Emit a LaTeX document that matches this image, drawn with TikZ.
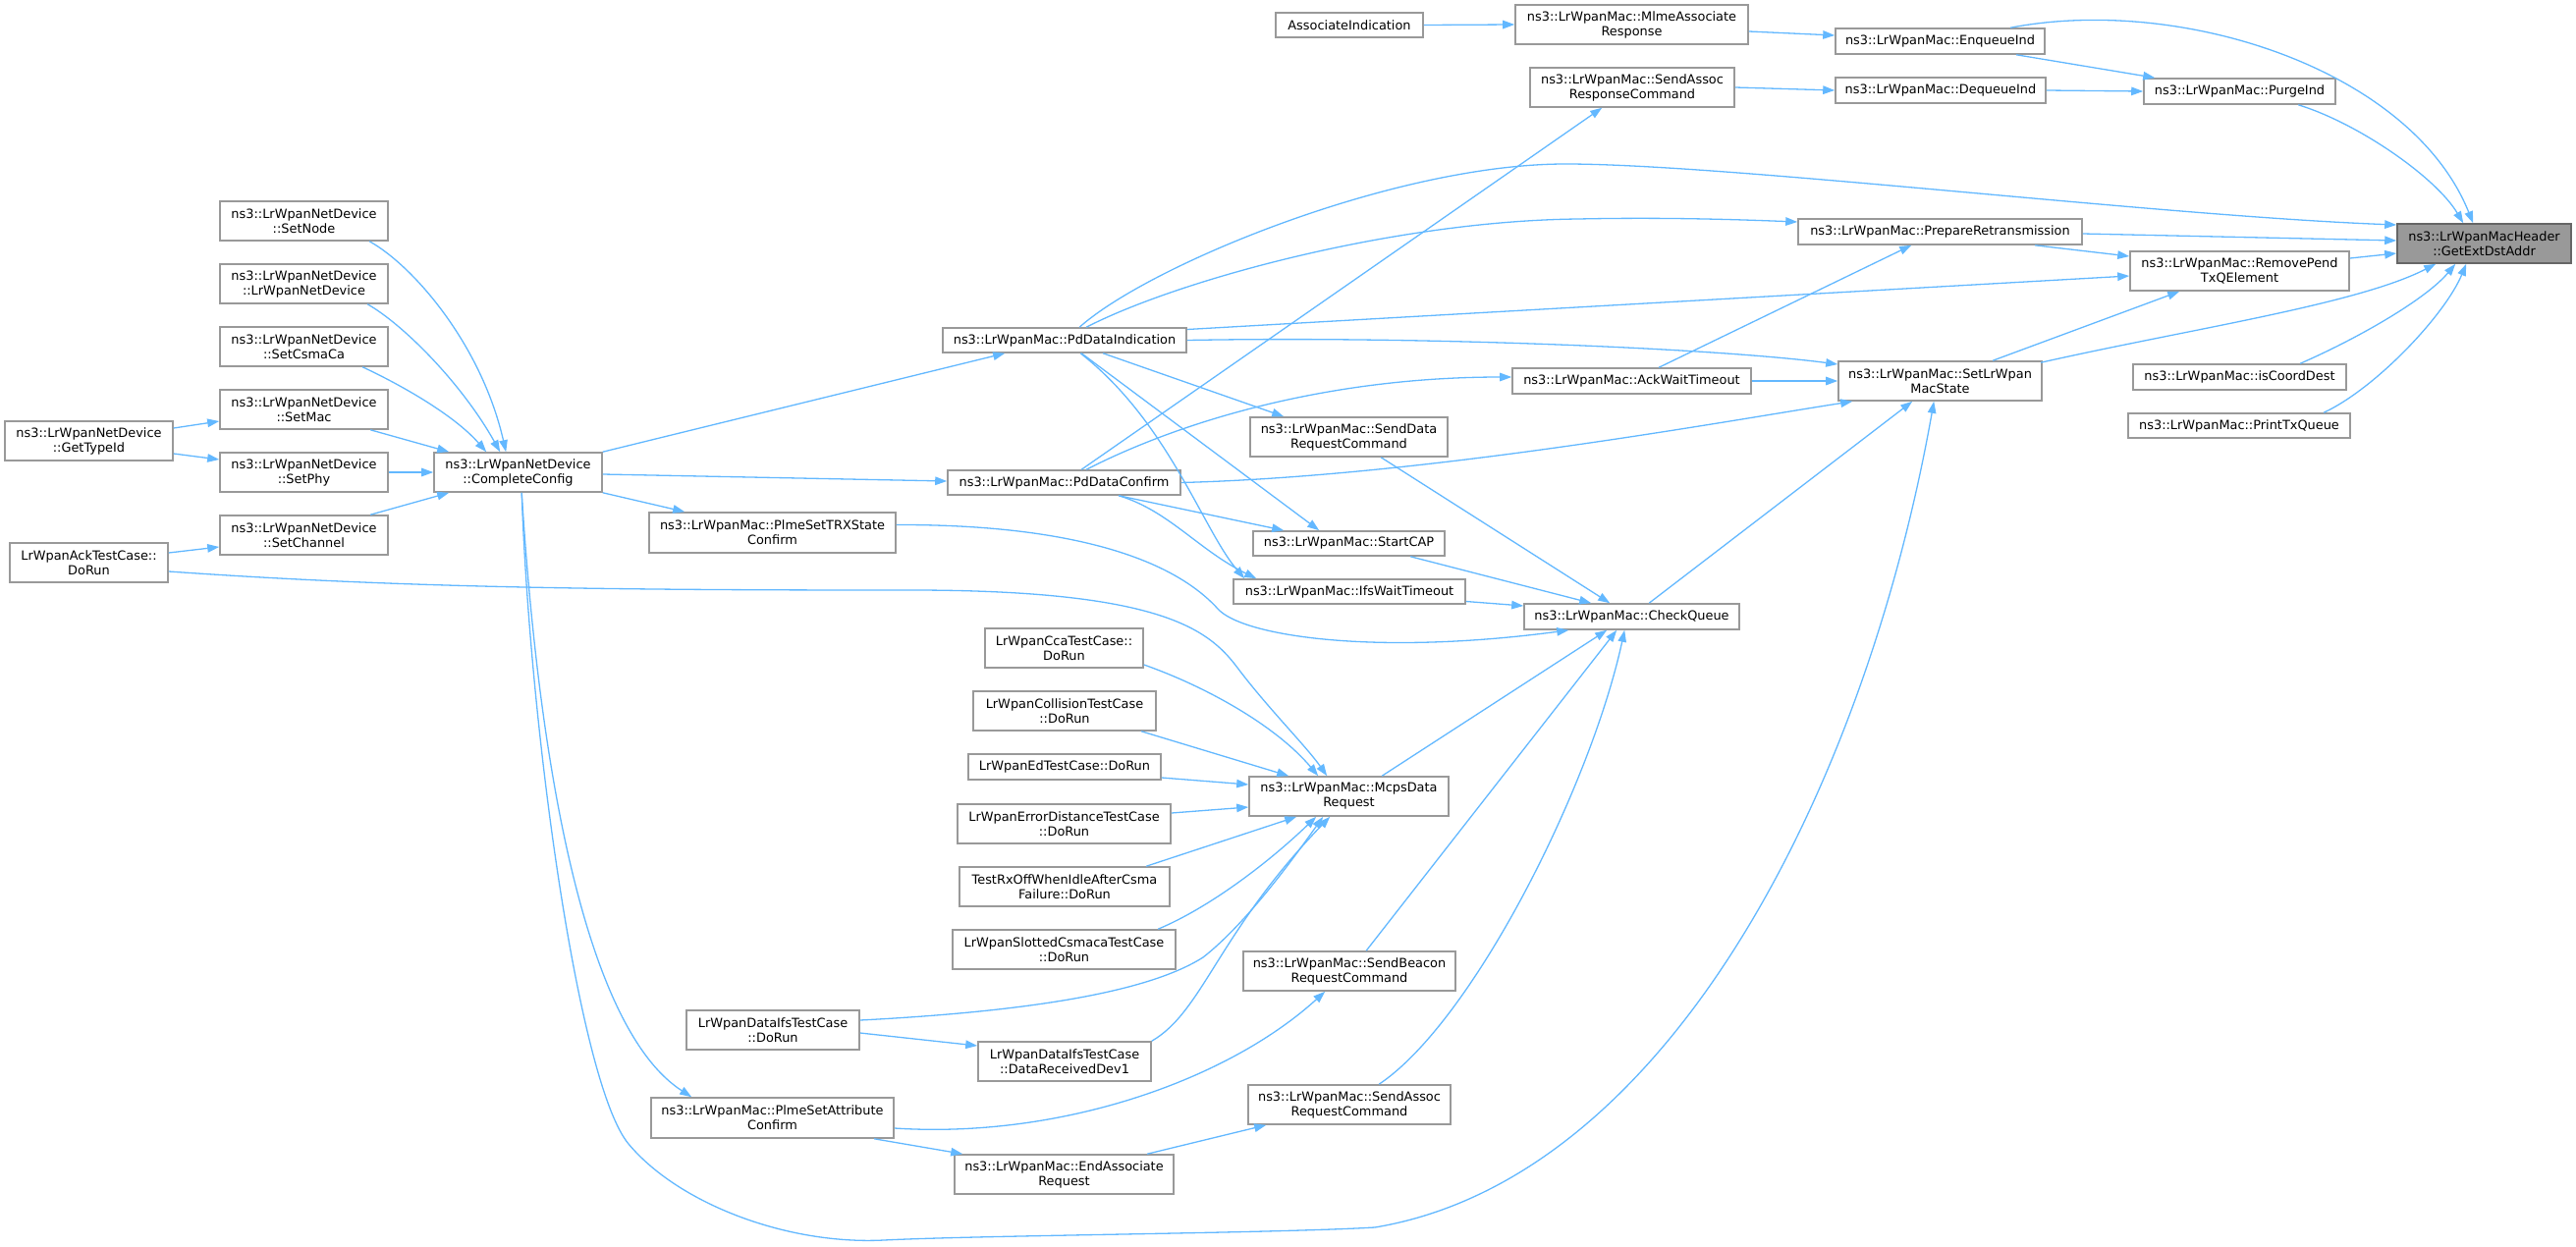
\documentclass[tikz,border=0pt]{standalone}
\usepackage{fontspec}
\setmainfont{DejaVu Sans}
\usetikzlibrary{arrows.meta}
\definecolor{edgec}{HTML}{63B8FF}
\definecolor{boxc}{HTML}{999999}
\definecolor{hlfill}{HTML}{999999}
\definecolor{hldraw}{HTML}{666666}
\begin{document}
\begin{tikzpicture}[x=1pt,y=-1pt,
  box/.style={draw=boxc,line width=1.6pt,fill=white,inner sep=0pt,align=center,
    font=\fontsize{12.9pt}{15pt}\selectfont},
  hl/.style={box,fill=hlfill,draw=hldraw},
  e/.style={draw=edgec,line width=1.3pt,-{Triangle[length=12pt,width=8.5pt]}}]
\useasboundingbox (0,0) rectangle (2623,1269);
% nodes
\node[box,minimum width=150pt,minimum height=25pt] (AI) at (1374,25.5) {AssociateIndication};
\node[box,minimum width=237pt,minimum height=40pt] (MAR) at (1661.5,25) {ns3::LrWpanMac::MlmeAssociate\\Response};
\node[box,minimum width=213pt,minimum height=26pt] (EQ) at (1975.5,42) {ns3::LrWpanMac::EnqueueInd};
\node[box,minimum width=208pt,minimum height=40pt] (SARC) at (1662,89) {ns3::LrWpanMac::SendAssoc\\ResponseCommand};
\node[box,minimum width=214pt,minimum height=26pt] (DQ) at (1976,92) {ns3::LrWpanMac::DequeueInd};
\node[box,minimum width=195pt,minimum height=26pt] (PI) at (2280.5,93) {ns3::LrWpanMac::PurgeInd};
\node[hl,minimum width=177pt,minimum height=40pt] (GED) at (2529.5,248) {ns3::LrWpanMacHeader\\::GetExtDstAddr};
\node[box,minimum width=289pt,minimum height=26pt] (PR) at (1975.5,236) {ns3::LrWpanMac::PrepareRetransmission};
\node[box,minimum width=223pt,minimum height=40pt] (RPT) at (2280.5,276) {ns3::LrWpanMac::RemovePend\\TxQElement};
\node[box,minimum width=207pt,minimum height=40pt] (SLS) at (1975.5,388) {ns3::LrWpanMac::SetLrWpan\\MacState};
\node[box,minimum width=217pt,minimum height=26pt] (ICD) at (2280.5,384) {ns3::LrWpanMac::isCoordDest};
\node[box,minimum width=226pt,minimum height=25pt] (PTQ) at (2280,433.5) {ns3::LrWpanMac::PrintTxQueue};
\node[box,minimum width=243pt,minimum height=26pt] (AWT) at (1661.5,388) {ns3::LrWpanMac::AckWaitTimeout};
\node[box,minimum width=248pt,minimum height=25pt] (PDI) at (1084,346.5) {ns3::LrWpanMac::PdDataIndication};
\node[box,minimum width=237pt,minimum height=25pt] (PDC) at (1083.5,491.5) {ns3::LrWpanMac::PdDataConfirm};
\node[box,minimum width=201pt,minimum height=40pt] (SDRC) at (1373.5,445) {ns3::LrWpanMac::SendData\\RequestCommand};
\node[box,minimum width=195pt,minimum height=25pt] (SCAP) at (1373.5,553.5) {ns3::LrWpanMac::StartCAP};
\node[box,minimum width=236pt,minimum height=25pt] (IFS) at (1374,602.5) {ns3::LrWpanMac::IfsWaitTimeout};
\node[box,minimum width=219pt,minimum height=26pt] (CQ) at (1661.5,628) {ns3::LrWpanMac::CheckQueue};
\node[box,minimum width=251pt,minimum height=41pt] (TRX) at (786.5,542.5) {ns3::LrWpanMac::PlmeSetTRXState\\Confirm};
\node[box,minimum width=171pt,minimum height=40pt] (CC) at (527.5,481) {ns3::LrWpanNetDevice\\::CompleteConfig};
\node[box,minimum width=171pt,minimum height=40pt] (SN) at (309.5,225) {ns3::LrWpanNetDevice\\::SetNode};
\node[box,minimum width=171pt,minimum height=40pt] (LND) at (309.5,289) {ns3::LrWpanNetDevice\\::LrWpanNetDevice};
\node[box,minimum width=171pt,minimum height=40pt] (SCC) at (309.5,353) {ns3::LrWpanNetDevice\\::SetCsmaCa};
\node[box,minimum width=171pt,minimum height=40pt] (SM) at (309.5,417) {ns3::LrWpanNetDevice\\::SetMac};
\node[box,minimum width=171pt,minimum height=40pt] (SP) at (309.5,481) {ns3::LrWpanNetDevice\\::SetPhy};
\node[box,minimum width=171pt,minimum height=40pt] (SCh) at (309.5,545) {ns3::LrWpanNetDevice\\::SetChannel};
\node[box,minimum width=171pt,minimum height=40pt] (GTI) at (90.5,449) {ns3::LrWpanNetDevice\\::GetTypeId};
\node[box,minimum width=161pt,minimum height=40pt] (ACK) at (90.5,573) {LrWpanAckTestCase::\\DoRun};
\node[box,minimum width=161pt,minimum height=40pt] (CCA) at (1083.5,660) {LrWpanCcaTestCase::\\DoRun};
\node[box,minimum width=186pt,minimum height=40pt] (COL) at (1084,724) {LrWpanCollisionTestCase\\::DoRun};
\node[box,minimum width=196pt,minimum height=26pt] (ED) at (1084,781) {LrWpanEdTestCase::DoRun};
\node[box,minimum width=217pt,minimum height=40pt] (ERR) at (1083.5,839) {LrWpanErrorDistanceTestCase\\::DoRun};
\node[box,minimum width=214pt,minimum height=40pt] (RXO) at (1084,903) {TestRxOffWhenIdleAfterCsma\\Failure::DoRun};
\node[box,minimum width=227pt,minimum height=40pt] (SLT) at (1083.5,967) {LrWpanSlottedCsmacaTestCase\\::DoRun};
\node[box,minimum width=203pt,minimum height=40pt] (MCPS) at (1373.5,811) {ns3::LrWpanMac::McpsData\\Request};
\node[box,minimum width=216pt,minimum height=40pt] (SBRC) at (1374,989) {ns3::LrWpanMac::SendBeacon\\RequestCommand};
\node[box,minimum width=176pt,minimum height=40pt] (DIFS) at (787,1049) {LrWpanDataIfsTestCase\\::DoRun};
\node[box,minimum width=176pt,minimum height=40pt] (DRD) at (1084,1081) {LrWpanDataIfsTestCase\\::DataReceivedDev1};
\node[box,minimum width=247pt,minimum height=41pt] (PSAC) at (786.5,1138.5) {ns3::LrWpanMac::PlmeSetAttribute\\Confirm};
\node[box,minimum width=223pt,minimum height=40pt] (EAR) at (1083.5,1196) {ns3::LrWpanMac::EndAssociate\\Request};
\node[box,minimum width=206pt,minimum height=40pt] (SARQ) at (1374,1125) {ns3::LrWpanMac::SendAssoc\\RequestCommand};
% left edges
\draw[e] ([yshift=13pt]GTI.east) -- ([yshift=-12pt]SM.west);
\draw[e] ([yshift=-13pt]GTI.east) -- ([yshift=13pt]SP.west);
\draw[e] ([yshift=10pt]ACK.east) -- ([yshift=-12pt]SCh.west);
\draw[e] ([xshift=153pt]SN.south west) .. controls (420,270) and (490,350) .. ([xshift=74pt]CC.north west);
\draw[e] ([xshift=151pt]LND.south west) .. controls (410,330) and (470,390) .. ([xshift=68pt]CC.north west);
\draw[e] ([xshift=146pt]SCC.south west) .. controls (400,388) and (460,420) .. ([xshift=54pt]CC.north west);
\draw[e] ([xshift=154pt]SM.south west) -- ([xshift=16pt]CC.north west);
\draw[e] (SP.east) -- (CC.west);
\draw[e] ([xshift=154pt]SCh.north west) -- ([xshift=16pt]CC.south west);
% CompleteConfig
\draw[e] (CC.north east) -- ([xshift=64pt]PDI.south west);
\draw[e] ([yshift=-2pt]CC.east) -- ([yshift=1.5pt]PDC.west);
\draw[e] (CC.south east) -- ([xshift=37pt]TRX.north west);
\draw[e] ([xshift=90pt]CC.south west) .. controls (550,800) and (600,1050) .. ([xshift=42pt]PSAC.north west);
\draw[e] ([xshift=90pt]CC.south west) .. controls (540,750) and (590,1105) .. (640,1165)
  .. controls (690,1225) and (800,1268) .. (900,1263)
  .. controls (1000,1258) and (1300,1256) .. (1400,1250)
  .. controls (1700,1200) and (1900,800) .. ([xshift=98pt]SLS.south west);
% PdDataIndication
\draw[e] ([xshift=140pt]PDI.north west) .. controls (1170,270) and (1420,167) .. (1594,167)
  .. controls (1760,167) and (2200,220) .. ([yshift=19pt]GED.west);
\draw[e] ([xshift=147pt]PDI.north west) .. controls (1200,285) and (1420,225) .. (1607,223)
  .. controls (1700,221) and (1780,224) .. ([yshift=10pt]PR.west);
\draw[e] ([yshift=11pt]PDI.east) -- ([yshift=-5pt]RPT.west);
\draw[e] (PDI.east) .. controls (1450,342) and (1750,355) .. ([yshift=17pt]SLS.west);
\draw[e] ([xshift=164pt]PDI.south west) -- ([xshift=35pt]SDRC.north west);
\draw[e] ([xshift=142pt]PDI.south west) -- ([xshift=68pt]SCAP.north west);
\draw[e] ([xshift=141pt]PDI.south west) .. controls (1190,430) and (1225,540) .. ([xshift=12pt]IFS.north west);
% PdDataConfirm
\draw[e] ([xshift=137pt]PDC.north west) -- ([xshift=74pt]SARC.south west);
\draw[e] ([xshift=142pt]PDC.north west) .. controls (1200,430) and (1350,384) .. ([yshift=4pt]AWT.west);
\draw[e] (PDC.east) .. controls (1450,485) and (1750,430) .. ([xshift=15pt]SLS.south west);
\draw[e] ([xshift=175pt]PDC.south west) -- ([xshift=32pt]SCAP.north west);
\draw[e] ([xshift=175pt]PDC.south west) .. controls (1190,520) and (1220,560) .. ([xshift=24pt]IFS.north west);
% TRX state confirm
\draw[e] ([yshift=8pt]TRX.east) .. controls (1080,534) and (1190,565) .. (1240,620)
  .. controls (1265,648) and (1400,668) .. ([xshift=46pt]CQ.south west);
% AckWaitTimeout
\draw[e] ([xshift=150pt]AWT.north west) -- ([xshift=116pt]PR.south west);
\draw[e] (AWT.east) -- (SLS.west);
% into CheckQueue
\draw[e] ([xshift=134pt]SDRC.south west) -- ([xshift=88pt]CQ.north west);
\draw[e] ([xshift=161pt]SCAP.south west) -- ([xshift=69pt]CQ.north west);
\draw[e] ([yshift=-10pt]IFS.east) -- ([yshift=11pt]CQ.west);
\draw[e] ([xshift=128pt]CQ.north west) -- ([xshift=76pt]SLS.south west);
\draw[e] ([xshift=136pt]MCPS.north west) -- ([xshift=85pt]CQ.south west);
\draw[e] ([xshift=126pt]SBRC.north west) -- ([xshift=95pt]CQ.south west);
\draw[e] ([xshift=134pt]SARQ.north west) .. controls (1500,1040) and (1620,800) .. ([xshift=103pt]CQ.south west);
% test cases to McpsDataRequest
\draw[e] ([yshift=-17pt]CCA.east) .. controls (1230,700) and (1300,740) .. ([xshift=71pt]MCPS.north west);
\draw[e] ([xshift=172pt]COL.south west) -- ([xshift=41pt]MCPS.north west);
\draw[e] ([yshift=-11pt]ED.east) -- ([yshift=12pt]MCPS.west);
\draw[e] ([yshift=11pt]ERR.east) -- ([yshift=-11pt]MCPS.west);
\draw[e] ([xshift=191pt]RXO.north west) -- ([xshift=49pt]MCPS.south west);
\draw[e] ([xshift=210pt]SLT.north west) .. controls (1230,925) and (1290,880) .. ([xshift=69pt]MCPS.south west);
\draw[e] ([yshift=10pt]DIFS.east) .. controls (1050,1030) and (1170,1010) .. (1225,975)
  .. controls (1270,940) and (1320,870) .. ([xshift=76pt]MCPS.south west);
\draw[e] (DRD.north east) .. controls (1225,1030) and (1240,950) .. ([xshift=83pt]MCPS.south west);
\draw[e] ([yshift=-3pt]DIFS.east) -- ([yshift=16pt]DRD.west);
\draw[e] ([yshift=-9pt]ACK.east) .. controls (400,598) and (600,601) .. (917,601)
  .. controls (1180,600) and (1230,640) .. (1260,680)
  .. controls (1290,720) and (1330,760) .. ([xshift=80pt]MCPS.north west);
% PlmeSetAttributeConfirm
\draw[e] ([yshift=-10.5pt]PSAC.east) .. controls (1080,1160) and (1250,1100) .. ([xshift=84pt]SBRC.south west);
\draw[e] ([xshift=228pt]PSAC.south west) -- ([xshift=9pt]EAR.north west);
\draw[e] ([xshift=197pt]EAR.north west) -- ([xshift=19pt]SARQ.south west);
% top area
\draw[e] (AI.east) -- (MAR.west);
\draw[e] ([yshift=-7pt]MAR.east) -- ([yshift=6pt]EQ.west);
\draw[e] ([xshift=179pt]EQ.north west) .. controls (2220,-5) and (2455,70) .. ([xshift=78pt]GED.north west);
\draw[e] ([xshift=185pt]EQ.south west) -- ([xshift=12pt]PI.north west);
\draw[e] (SARC.east) -- (DQ.west);
\draw[e] (DQ.east) -- (PI.west);
\draw[e] ([xshift=158pt]PI.south west) .. controls (2400,125) and (2480,180) .. ([xshift=68pt]GED.north west);
\draw[e] ([yshift=-2pt]PR.east) -- ([yshift=3pt]GED.west);
\draw[e] ([yshift=13pt]RPT.east) -- ([yshift=-10pt]GED.west);
\draw[e] ([xshift=207pt,yshift=-2pt]SLS.north west) .. controls (2230,335) and (2400,310) .. ([xshift=40pt]GED.south west);
\draw[e] ([xshift=171pt]ICD.north west) .. controls (2400,345) and (2470,305) .. ([xshift=60pt]GED.south west);
\draw[e] ([xshift=200pt]PTQ.north west) .. controls (2420,395) and (2490,320) .. ([xshift=71pt]GED.south west);
\draw[e] ([xshift=242pt]PR.south west) -- ([yshift=15pt]RPT.west);
\draw[e] ([xshift=158pt]SLS.north west) -- ([xshift=51pt]RPT.south west);
\end{tikzpicture}
\end{document}
